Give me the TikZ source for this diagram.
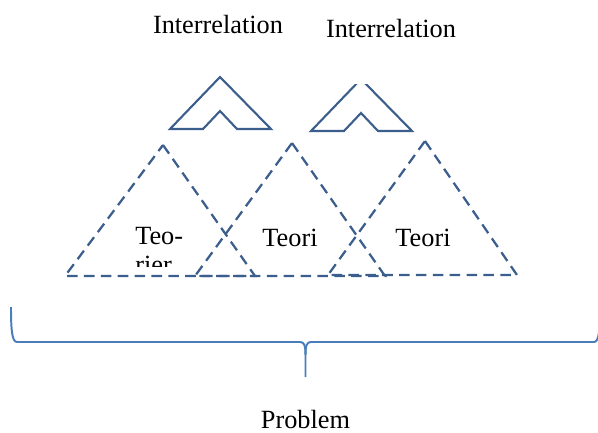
\documentclass[tikz,border=0pt]{standalone}
\usepackage{fontspec}
\setmainfont{Liberation Serif}
\usepackage{tikz}
\usetikzlibrary{calc}
\definecolor{shapeblue}{HTML}{3B5E8C}
\definecolor{braceblue}{HTML}{4A7EBB}
\def\chevron[#1](#2){\draw[#1] (#2) -- ++(-50,52) -- ++(33,0) -- ++(17,-18) -- ++(17,18) -- ++(34,0) -- cycle;}

\begin{document}
\begin{tikzpicture}[x=0.25mm, y=-0.25mm,
		every node/.style={font=\fontsize{18.7}{20}\selectfont, inner sep=0pt},
		solidline/.style={line width=1.5pt, color=shapeblue, line join=miter},
		dashline/.style={line width=1.6pt, color=shapeblue, dash pattern=on 7.5pt off 4.5pt},
		brace/.style={line width=1.4pt, color=braceblue}]
			%%%%% START %%%%%
			\useasboundingbox (0, 0) rectangle (598, 432);
			
			\node[anchor=base] (inter1) at (218, 33) {Interrelation};
			\node[anchor=base] (inter2) at (391, 37) {Interrelation};
			
			\chevron[solidline](220, 77);
			\begin{scope}
				\clip (290, 84) rectangle (430, 140);
				\chevron[solidline](361, 79);
			\end{scope}
			
			\draw[dashline] (163, 145) -- (255, 276) -- (65, 276) -- cycle;
			\draw[dashline] (292, 143) -- (385, 276) -- (195, 276) -- cycle;
			\draw[dashline] (425, 141) -- (517, 275) -- (328, 275) -- cycle;
			
			\begin{scope}
				\clip (100, 200) rectangle (220, 266);
				\node[anchor=base west, align=left] (teorier) at (135, 273) {Teo-\\rier};
			\end{scope}
			\node[anchor=base] (teori1) at (290, 246) {Teori};
			\node[anchor=base] (teori2) at (423, 246) {Teori};
			
			\draw[brace] (11, 307) .. controls (11, 330) and (12, 342) .. (17, 342) -- (300, 342) .. controls (304, 342) and (305.5, 345) .. (305.5, 355) -- (305.5, 377);
			\draw[brace] (600, 307) .. controls (600, 330) and (599, 342) .. (594, 342) -- (311, 342) .. controls (307, 342) and (305.5, 345) .. (305.5, 355);
			
			\node[anchor=base] (problem) at (305.5, 428) {Problem};
			%%%%% END %%%%%
\end{tikzpicture}
\end{document}
